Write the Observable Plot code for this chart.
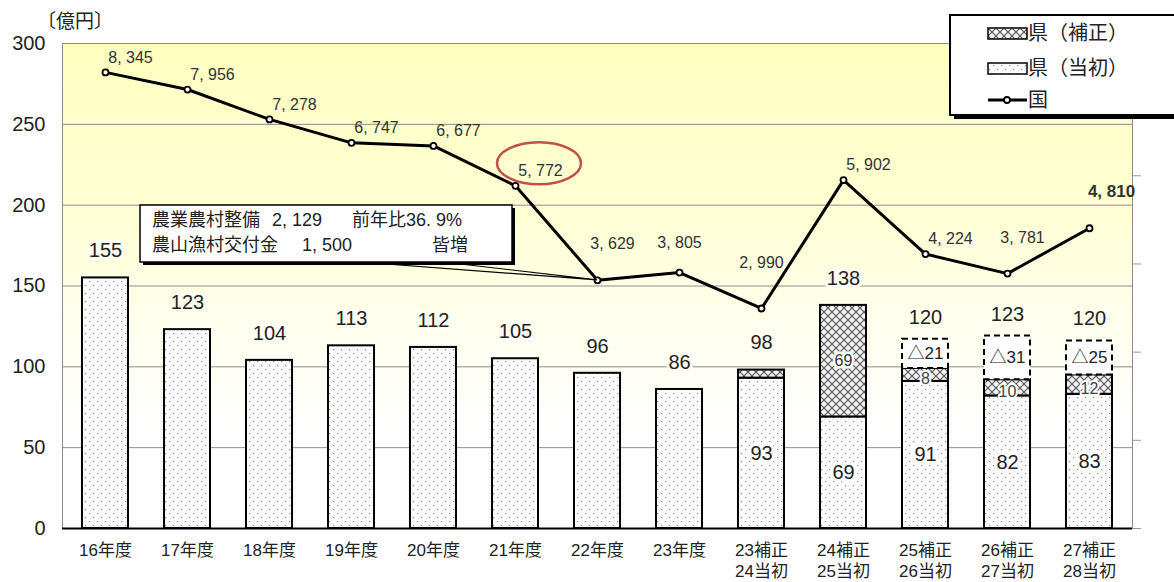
<!DOCTYPE html>
<html>
<head>
<meta charset="utf-8">
<script src="https://cdn.jsdelivr.net/npm/d3@7"></script>
<script src="https://cdn.jsdelivr.net/npm/@observablehq/plot@0.6"></script>
<style>
  body { margin: 0; background: #fff; }
  svg { display: block; }
</style>
</head>
<body>
<div id="chart"></div>
<script>
// ---------------- data ----------------
const categories = ["16年度", "17年度", "18年度", "19年度", "20年度", "21年度", "22年度", "23年度",
  "23補正\n24当初", "24補正\n25当初", "25補正\n26当初", "26補正\n27当初", "27補正\n28当初"];
const prefInitial = [155, 123, 104, 113, 112, 105, 96, 86, 93, 69, 91, 82, 83];      // 県（当初）
const prefSupplement = [0, 0, 0, 0, 0, 0, 0, 0, 5, 69, 8, 10, 12];                  // 県（補正）
const prefTotal = [155, 123, 104, 113, 112, 105, 96, 86, 98, 138, 120, 123, 120];    // 合計ラベル
const prefReduction = [null, null, null, null, null, null, null, null, null, null, 21, 31, 25]; // △
const reductionBoxTop = [null, null, null, null, null, null, null, null, null, null, 117, 119, 116];
const national = [8345, 7956, 7278, 6747, 6677, 5772, 3629, 3805, 2990, 5902, 4224, 3781, 4810]; // 国
const leftTicks = [0, 50, 100, 150, 200, 250, 300];
const rightDomain = [-2000, 9000];
const rightTicks = [-2000, 0, 2000, 4000, 6000, 8000];
const unitLabel = "〔億円〕";
const legendLabels = ["県（補正）", "県（当初）", "国"];
const noteLine1 = ["農業農村整備", "2, 129", "前年比36. 9%"];
const noteLine2 = ["農山漁村交付金", "1, 500", "皆増"];

// ---------------- helpers ----------------
const FONT = '"Liberation Sans","Noto Sans CJK JP",sans-serif';
const toLeft = v => (v - rightDomain[0]) / (rightDomain[1] - rightDomain[0]) * 300;
const fmt = v => d3.format(",")(v).replace(",", ", ");

const rows = categories.map((c, i) => ({
  i, cat: c,
  init: prefInitial[i], supp: prefSupplement[i], top: prefInitial[i] + prefSupplement[i],
  total: prefTotal[i], red: prefReduction[i], boxTop: reductionBoxTop[i],
  nat: national[i], natY: toLeft(national[i])
}));
const suppRows = rows.filter(d => d.supp > 0);
const redRows = rows.filter(d => d.red != null);

const natGroups = [
  {idx: [0, 1, 2, 3, 4, 5, 9, 10], dx: 25, dy: -15, w: "normal", fs: 16},
  {idx: [6, 11], dx: 15, dy: -36, w: "normal", fs: 16},
  {idx: [7], dx: 0, dy: -30, w: "normal", fs: 16},
  {idx: [8], dx: 0, dy: -46, w: "normal", fs: 16},
  {idx: [12], dx: 22, dy: -37, w: "bold", fs: 17}
];

const plot = Plot.plot({
  width: 1174, height: 582,
  marginTop: 43, marginBottom: 54, marginLeft: 62, marginRight: 42,
  style: {fontFamily: FONT, color: "#222", background: "transparent"},
  x: {domain: categories, paddingInner: 0.44, paddingOuter: 0.22, label: null},
  y: {domain: [0, 300], label: null},
  marks: [
    Plot.frame({fill: "url(#pbg)", stroke: "#8c8c8c"}),
    Plot.gridY(leftTicks.filter(t => t > 0), {stroke: "#8c8c8c", strokeOpacity: 1}),
    Plot.axisY(rightTicks.map(toLeft), {anchor: "right", tickSize: 8, tickFormat: () => "", stroke: "#999"}),
    Plot.axisY(leftTicks, {anchor: "left", tickSize: 0, tickPadding: 17, fontSize: 20, line: true, color: "#222"}),
    Plot.axisX({tickSize: 0, tickPadding: 12, fontSize: 17, lineHeight: 1.25, color: "#222"}),
    // bars
    Plot.barY(rows, {x: "cat", y1: 0, y2: "init", fill: "url(#pdots)", stroke: "#000", strokeWidth: 2}),
    Plot.barY(suppRows, {x: "cat", y1: "init", y2: "top", fill: "url(#phatch)", stroke: "#000", strokeWidth: 2}),
    Plot.barY(redRows, {x: "cat", y1: "top", y2: "boxTop", fill: "#fff", stroke: "#000", strokeWidth: 2, strokeDasharray: "6,4"}),
    Plot.ruleY([0], {stroke: "#000", strokeWidth: 2}),
    // bar labels
    Plot.text(rows.filter(d => d.red == null), {x: "cat", y: "total", text: d => String(d.total), dy: -27, fontSize: 20, fill: "#222", stroke: "#fffff4", strokeWidth: 6}),
    Plot.text(redRows, {x: "cat", y: "boxTop", text: d => String(d.total), dy: -22, fontSize: 20, fill: "#222"}),
    Plot.text(redRows, {x: "cat", y: d => (d.top + d.boxTop) / 2, text: d => "△" + d.red, fontSize: 17, fill: "#222"}),
    Plot.text(rows.filter(d => d.i >= 8), {x: "cat", y: d => d.init / 2, text: d => String(d.init), fontSize: 20, fill: "#222", stroke: "#fff", strokeWidth: 6}),
    Plot.text(rows.filter(d => d.i === 9), {x: "cat", y: d => d.init + d.supp / 2, text: d => String(d.supp), fontSize: 16, fill: "#333", stroke: "#fff", strokeWidth: 5}),
    Plot.text(rows.filter(d => d.i >= 10), {x: "cat", y: d => d.init + d.supp / 2, text: d => String(d.supp), dy: 4, fontSize: 16, fill: "#444", stroke: "#fff", strokeWidth: 4}),
    // national line
    Plot.line(rows, {x: "cat", y: "natY", stroke: "#000", strokeWidth: 3}),
    Plot.dot(rows, {x: "cat", y: "natY", r: 3, fill: "#fff", stroke: "#000", strokeWidth: 1.8}),
    ...natGroups.map(g => Plot.text(rows.filter(d => g.idx.includes(d.i)), {
      x: "cat", y: "natY", text: d => fmt(d.nat), dx: g.dx, dy: g.dy, fontSize: g.fs, fontWeight: g.w, fill: "#333"
    }))
  ]
});

document.getElementById("chart").appendChild(plot);

// ---------------- defs (patterns, gradient) ----------------
const svg = d3.select(plot);
const defs = svg.insert("defs", ":first-child");
const grad = defs.append("linearGradient").attr("id", "pbg").attr("x1", 0).attr("y1", 0).attr("x2", 0).attr("y2", 1);
[[0, "#ffffc0"], [0.35, "#ffffd4"], [0.6, "#fffff0"], [0.8, "#ffffff"], [1, "#ffffff"]]
  .forEach(([o, c]) => grad.append("stop").attr("offset", o).attr("stop-color", c));
const pd = defs.append("pattern").attr("id", "pdots").attr("patternUnits", "userSpaceOnUse").attr("width", 8).attr("height", 8);
pd.append("rect").attr("width", 8).attr("height", 8).attr("fill", "#fff");
pd.append("rect").attr("x", 1).attr("y", 1).attr("width", 1.2).attr("height", 1.2).attr("fill", "#888");
pd.append("rect").attr("x", 5).attr("y", 5).attr("width", 1.2).attr("height", 1.2).attr("fill", "#888");
const ph = defs.append("pattern").attr("id", "phatch").attr("patternUnits", "userSpaceOnUse").attr("width", 8).attr("height", 8);
ph.append("rect").attr("width", 8).attr("height", 8).attr("fill", "#f2f2f2");
ph.append("path").attr("d", "M0,0L8,8M8,0L0,8").attr("stroke", "#555").attr("stroke-width", 1.1);

// ---------------- annotations ----------------
const xs = plot.scale("x"), ys = plot.scale("y");
const cx = c => xs.apply(c) + xs.bandwidth / 2;
const cy = v => ys.apply(v);
const g = svg.append("g").attr("text-anchor", "start").attr("font-family", FONT);

// red ellipse around 21年度 label
g.append("ellipse").attr("cx", cx(categories[5]) + 24).attr("cy", cy(rows[5].natY) - 22)
  .attr("rx", 42).attr("ry", 21).attr("fill", "none").attr("stroke", "#c0504d").attr("stroke-width", 2.5);

// callout box
const px = cx(categories[6]), py = cy(rows[6].natY);
g.append("path").attr("d", `M360,262L${px},${py}M443,262L${px},${py}`).attr("stroke", "#000").attr("stroke-width", 1.2).attr("fill", "none");
g.append("rect").attr("x", 143).attr("y", 208).attr("width", 372).attr("height", 57).attr("fill", "#000");
g.append("rect").attr("x", 140).attr("y", 205).attr("width", 372).attr("height", 57).attr("fill", "#fff").attr("stroke", "#000").attr("stroke-width", 1.5);
const noteX = [152, 272, 352], noteX2 = [152, 302, 432];
noteLine1.forEach((t, k) => g.append("text").attr("x", noteX[k]).attr("y", 220).attr("dy", "0.35em")
  .attr("font-size", 18).attr("fill", "#222").text(t));
noteLine2.forEach((t, k) => g.append("text").attr("x", noteX2[k]).attr("y", 245).attr("dy", "0.35em")
  .attr("font-size", 18).attr("fill", "#222").text(t));

// unit label
g.append("text").attr("x", 37).attr("y", 21).attr("dy", "0.35em")
  .attr("font-size", 19).attr("fill", "#222").text(unitLabel);

// legend
const lg = svg.append("g").attr("text-anchor", "start").attr("font-family", FONT);
lg.append("rect").attr("x", 954).attr("y", 19).attr("width", 240).attr("height", 100).attr("fill", "#000");
lg.append("rect").attr("x", 950).attr("y", 15).attr("width", 240).attr("height", 100).attr("fill", "#fff").attr("stroke", "#000").attr("stroke-width", 2);
lg.append("rect").attr("x", 988).attr("y", 28).attr("width", 39).attr("height", 11).attr("fill", "url(#phatch)").attr("stroke", "#000").attr("stroke-width", 1.5);
lg.append("rect").attr("x", 988).attr("y", 63).attr("width", 39).attr("height", 11).attr("fill", "url(#pdots)").attr("stroke", "#000").attr("stroke-width", 1.5);
lg.append("line").attr("x1", 988).attr("x2", 1027).attr("y1", 100).attr("y2", 100).attr("stroke", "#000").attr("stroke-width", 3);
lg.append("circle").attr("cx", 1007).attr("cy", 100).attr("r", 3).attr("fill", "#fff").attr("stroke", "#000").attr("stroke-width", 1.8);
[33, 68, 100].forEach((y, k) => lg.append("text").attr("x", 1028).attr("y", y).attr("dy", "0.36em")
  .attr("font-size", 20).attr("fill", "#222").text(legendLabels[k]));
</script>
</body>
</html>
